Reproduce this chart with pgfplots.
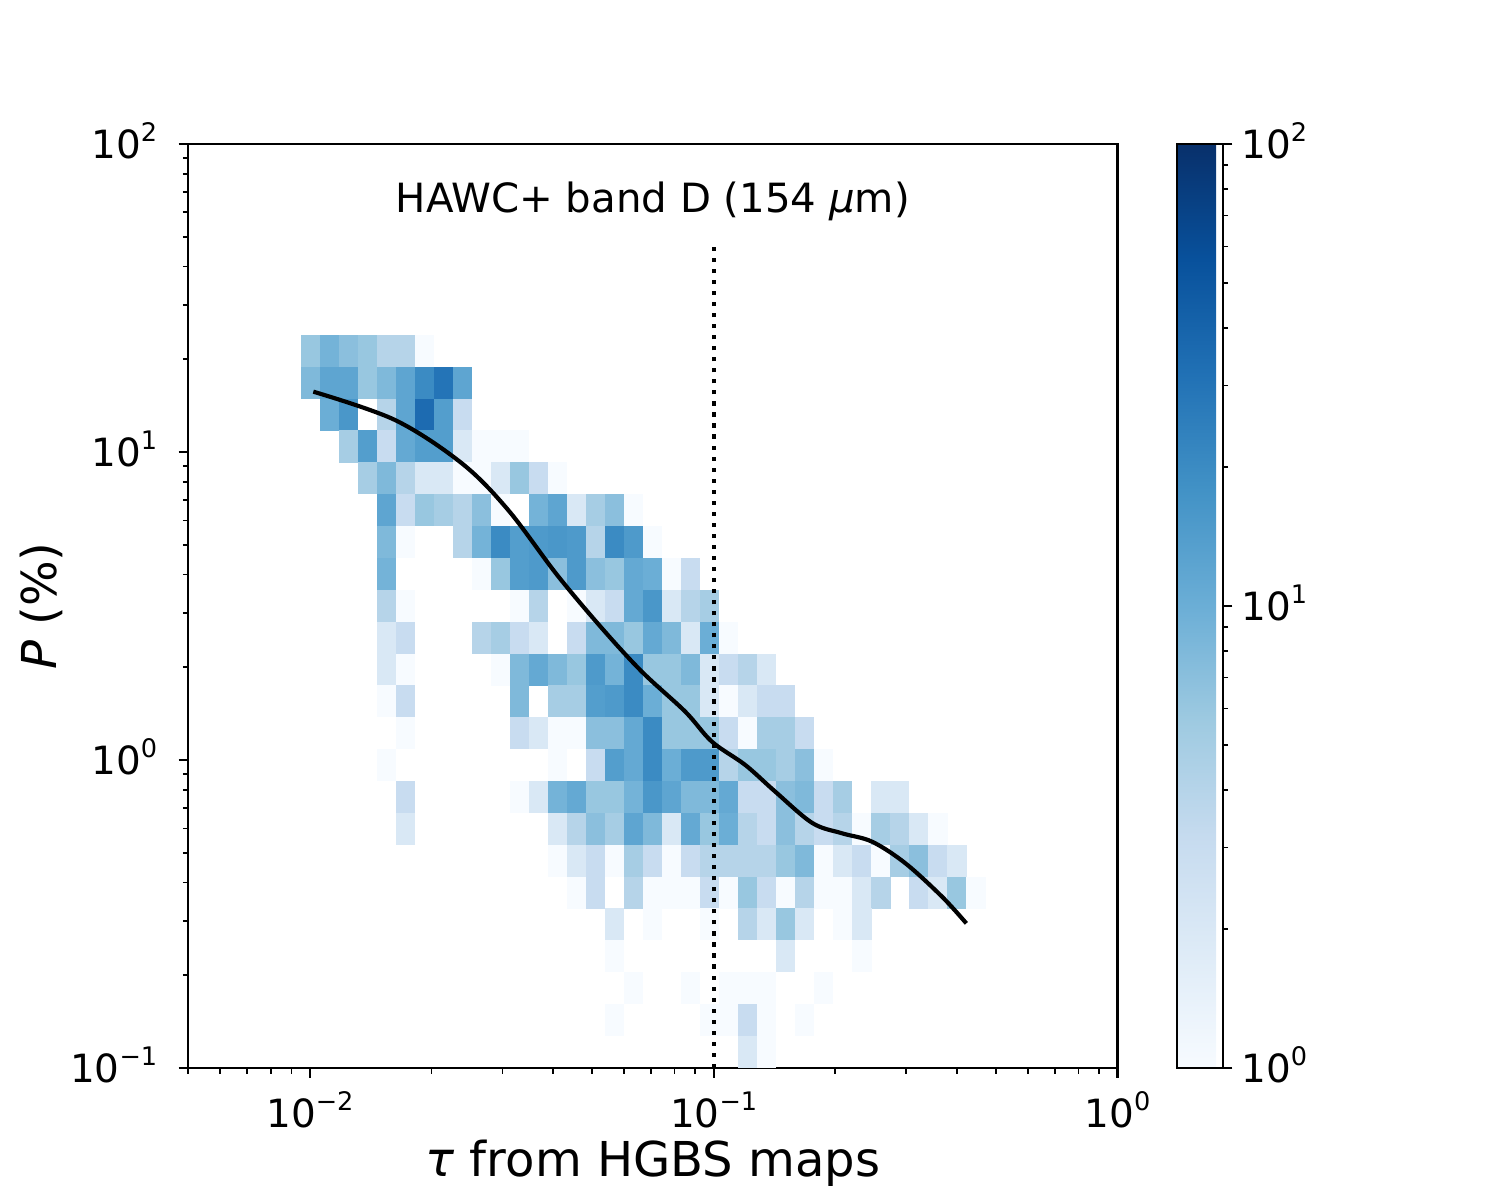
\documentclass[border=0pt]{standalone}
\usepackage{fontspec}
\setmainfont{DejaVu Sans}
\usepackage{pgfplots}
\usepackage{pgfplotstable}
\pgfplotsset{compat=1.18}
\newcommand{\tl}[1]{10\raisebox{6.2bp}{\fontsize{9.2bp}{10bp}\selectfont #1}}
\pgfdeclareplotmark{cell}{\pgfpathrectangle{\pgfpoint{-3.46bp}{-5.765bp}}{\pgfpoint{6.92bp}{11.53bp}}\pgfusepathqfill}
\pgfplotsset{colormap={mplblues}{rgb255=(247,251,255) rgb255=(222,235,247) rgb255=(198,219,239) rgb255=(158,202,225) rgb255=(107,174,214) rgb255=(66,146,198) rgb255=(33,113,181) rgb255=(8,81,156) rgb255=(8,48,107)}}
\pgfplotstableread{
x y c
0.010040 21.290 6
0.011190 21.290 9
0.012471 21.290 7
0.013899 21.290 6
0.015490 21.290 4
0.017264 21.290 4
0.019241 21.290 1
0.010040 16.778 8
0.011190 16.778 12
0.012471 16.778 12
0.013899 16.778 6
0.015490 16.778 8
0.017264 16.778 12
0.019241 16.778 20
0.021443 16.778 30
0.023899 16.778 12
0.011190 13.222 10
0.012471 13.222 16
0.015490 13.222 4
0.017264 13.222 12
0.019241 13.222 35
0.021443 13.222 14
0.023899 13.222 3
0.012471 10.419 5
0.013899 10.419 14
0.015490 10.419 3
0.017264 10.419 11
0.019241 10.419 14
0.021443 10.419 14
0.023899 10.419 2
0.026635 10.419 1
0.029685 10.419 1
0.033084 10.419 1
0.013899 8.2108 5
0.015490 8.2108 8
0.017264 8.2108 4
0.019241 8.2108 2
0.021443 8.2108 2
0.023899 8.2108 1
0.026635 8.2108 1
0.029685 8.2108 2
0.033084 8.2108 6
0.036873 8.2108 3
0.041093 8.2108 1
0.015490 6.4705 12
0.017264 6.4705 3
0.019241 6.4705 6
0.021443 6.4705 5
0.023899 6.4705 4
0.026635 6.4705 7
0.029685 6.4705 1
0.036873 6.4705 9
0.041093 6.4705 12
0.045799 6.4705 2
0.051042 6.4705 5
0.056887 6.4705 7
0.063400 6.4705 1
0.015490 5.0990 8
0.017264 5.0990 1
0.023899 5.0990 4
0.026635 5.0990 9
0.029685 5.0990 20
0.033084 5.0990 14
0.036873 5.0990 15
0.041093 5.0990 16
0.045799 5.0990 15
0.051042 5.0990 4
0.056887 5.0990 20
0.063400 5.0990 15
0.070660 5.0990 1
0.015490 4.0182 9
0.026635 4.0182 1
0.029685 4.0182 6
0.033084 4.0182 14
0.036873 4.0182 15
0.041093 4.0182 7
0.045799 4.0182 15
0.051042 4.0182 7
0.056887 4.0182 6
0.063400 4.0182 11
0.070660 4.0182 10
0.078749 4.0182 1
0.087767 4.0182 3
0.015490 3.1665 4
0.017264 3.1665 1
0.033084 3.1665 1
0.036873 3.1665 4
0.045799 3.1665 1
0.051042 3.1665 2
0.056887 3.1665 3
0.063400 3.1665 11
0.070660 3.1665 16
0.078749 3.1665 2
0.087767 3.1665 4
0.097818 3.1665 5
0.015490 2.4953 2
0.017264 2.4953 3
0.026635 2.4953 4
0.029685 2.4953 5
0.033084 2.4953 3
0.036873 2.4953 2
0.045799 2.4953 3
0.051042 2.4953 8
0.056887 2.4953 8
0.063400 2.4953 6
0.070660 2.4953 11
0.078749 2.4953 8
0.087767 2.4953 2
0.097818 2.4953 10
0.10902 2.4953 1
0.015490 1.9665 2
0.017264 1.9665 1
0.029685 1.9665 1
0.033084 1.9665 8
0.036873 1.9665 11
0.041093 1.9665 8
0.045799 1.9665 6
0.051042 1.9665 15
0.056887 1.9665 9
0.063400 1.9665 20
0.070660 1.9665 6
0.078749 1.9665 6
0.087767 1.9665 8
0.097818 1.9665 2
0.10902 1.9665 3
0.12150 1.9665 4
0.13542 1.9665 2
0.015490 1.5496 1
0.017264 1.5496 3
0.033084 1.5496 8
0.041093 1.5496 5
0.045799 1.5496 5
0.051042 1.5496 14
0.056887 1.5496 15
0.063400 1.5496 20
0.070660 1.5496 10
0.078749 1.5496 6
0.087767 1.5496 6
0.097818 1.5496 2
0.10902 1.5496 1
0.12150 1.5496 2
0.13542 1.5496 3
0.15092 1.5496 3
0.017264 1.2212 1
0.033084 1.2212 3
0.036873 1.2212 2
0.041093 1.2212 1
0.045799 1.2212 1
0.051042 1.2212 7
0.056887 1.2212 7
0.063400 1.2212 11
0.070660 1.2212 20
0.078749 1.2212 6
0.087767 1.2212 6
0.097818 1.2212 6
0.10902 1.2212 3
0.12150 1.2212 1
0.13542 1.2212 5
0.15092 1.2212 5
0.16820 1.2212 3
0.015490 0.96235 1
0.041093 0.96235 1
0.051042 0.96235 3
0.056887 0.96235 14
0.063400 0.96235 11
0.070660 0.96235 20
0.078749 0.96235 10
0.087767 0.96235 15
0.097818 0.96235 15
0.10902 0.96235 4
0.12150 0.96235 6
0.13542 0.96235 6
0.15092 0.96235 5
0.16820 0.96235 7
0.18746 0.96235 1
0.017264 0.75836 3
0.033084 0.75836 1
0.036873 0.75836 2
0.041093 0.75836 9
0.045799 0.75836 11
0.051042 0.75836 6
0.056887 0.75836 6
0.063400 0.75836 9
0.070660 0.75836 16
0.078749 0.75836 12
0.087767 0.75836 8
0.097818 0.75836 8
0.10902 0.75836 11
0.12150 0.75836 3
0.13542 0.75836 3
0.15092 0.75836 7
0.16820 0.75836 8
0.18746 0.75836 3
0.20892 0.75836 5
0.25950 0.75836 2
0.28921 0.75836 2
0.017264 0.59762 2
0.041093 0.59762 2
0.045799 0.59762 4
0.051042 0.59762 7
0.056887 0.59762 5
0.063400 0.59762 12
0.070660 0.59762 8
0.078749 0.59762 2
0.087767 0.59762 11
0.097818 0.59762 6
0.10902 0.59762 10
0.12150 0.59762 4
0.13542 0.59762 3
0.15092 0.59762 7
0.16820 0.59762 4
0.18746 0.59762 3
0.20892 0.59762 4
0.23285 0.59762 1
0.25950 0.59762 5
0.28921 0.59762 4
0.32233 0.59762 2
0.35924 0.59762 1
0.041093 0.47096 1
0.045799 0.47096 2
0.051042 0.47096 3
0.056887 0.47096 1
0.063400 0.47096 5
0.070660 0.47096 3
0.078749 0.47096 1
0.087767 0.47096 3
0.097818 0.47096 4
0.10902 0.47096 4
0.12150 0.47096 4
0.13542 0.47096 4
0.15092 0.47096 6
0.16820 0.47096 8
0.18746 0.47096 1
0.20892 0.47096 2
0.23285 0.47096 3
0.25950 0.47096 1
0.28921 0.47096 5
0.32233 0.47096 7
0.35924 0.47096 3
0.40037 0.47096 2
0.045799 0.37112 1
0.051042 0.37112 3
0.063400 0.37112 4
0.070660 0.37112 1
0.078749 0.37112 1
0.087767 0.37112 1
0.097818 0.37112 3
0.10902 0.37112 1
0.12150 0.37112 6
0.13542 0.37112 3
0.15092 0.37112 1
0.16820 0.37112 4
0.18746 0.37112 1
0.20892 0.37112 1
0.23285 0.37112 2
0.25950 0.37112 4
0.32233 0.37112 3
0.35924 0.37112 2
0.40037 0.37112 6
0.44622 0.37112 1
0.056887 0.29246 2
0.070660 0.29246 1
0.097818 0.29246 1
0.12150 0.29246 4
0.13542 0.29246 2
0.15092 0.29246 6
0.16820 0.29246 2
0.20892 0.29246 1
0.23285 0.29246 2
0.056887 0.23047 1
0.15092 0.23047 2
0.23285 0.23047 1
0.063400 0.18162 1
0.087767 0.18162 1
0.10902 0.18162 1
0.12150 0.18162 1
0.13542 0.18162 1
0.18746 0.18162 1
0.056887 0.14313 1
0.097818 0.14313 1
0.10902 0.14313 1
0.12150 0.14313 3
0.13542 0.14313 1
0.16820 0.14313 1
0.12150 0.11279 2
0.13542 0.11279 1
}\cells
\begin{document}
\begin{tikzpicture}
\path[use as bounding box] (-67.79bp,-47.52bp) rectangle (472.21bp,384.48bp);
\begin{axis}[
  at={(0,0)}, anchor=south west,
  scale only axis, width=334.5bp, height=332.64bp,
  clip mode=individual,
  xmode=log, ymode=log,
  xmin=0.005, xmax=1, ymin=0.1, ymax=100,
  colormap name=mplblues,
  point meta min=0, point meta max=2,
  xtick={0.01,0.1,1}, xticklabels={\tl{−2},\tl{−1},\tl{0}},
  ytick={0.1,1,10,100}, yticklabels={\tl{−1},\tl{0},\tl{1},\tl{2}},
  minor xtick={0.005,0.006,0.007,0.008,0.009,0.02,0.03,0.04,0.05,0.06,0.07,0.08,0.09,0.2,0.3,0.4,0.5,0.6,0.7,0.8,0.9},
  minor ytick={0.2,0.3,0.4,0.5,0.6,0.7,0.8,0.9,2,3,4,5,6,7,8,9,20,30,40,50,60,70,80,90},
  xtick pos=left, ytick pos=left,
  tick align=outside,
  major tick length=3.5bp, minor tick length=2bp,
  major tick style={line width=0.8bp, black},
  minor tick style={line width=0.6bp, black},
  axis line style={line width=0.8bp},
  xticklabel style={font=\fontsize{14bp}{16bp}\selectfont, anchor=base, inner sep=0pt, yshift=-18.1bp},
  yticklabel style={font=\fontsize{14bp}{16bp}\selectfont, anchor=base east, inner sep=0pt, xshift=-7.5bp, yshift=-5.2bp},
  xlabel={\textit{τ} from HGBS maps},
  ylabel={\textit{P} (\%)},
  xlabel style={font=\fontsize{17.3bp}{20bp}\selectfont, at={(axis description cs:0.5,-0.117)}, anchor=base},
  ylabel style={font=\fontsize{17.3bp}{20bp}\selectfont, at={(axis description cs:-0.1585,0.5)}, anchor=center},
  colorbar,
  colorbar style={
    at={(parent axis.north east)}, anchor=north west, xshift=12.8bp,
    scale only axis, width=16.56bp, height=332.64bp,
    ytick={0,1,2}, yticklabels={\tl{0},\tl{1},\tl{2}},
    minor ytick={0.30103,0.47712,0.60206,0.69897,0.77815,0.8451,0.90309,0.95424,1.30103,1.47712,1.60206,1.69897,1.77815,1.8451,1.90309,1.95424},
    xtick=\empty,
    ytick pos=right, yticklabel pos=right, tick align=outside,
    major tick length=3.5bp, minor tick length=2bp,
    major tick style={line width=0.8bp, black},
    minor tick style={line width=0.6bp, black},
    axis line style={line width=0.8bp},
    yticklabel style={font=\fontsize{14bp}{16bp}\selectfont, anchor=base west, inner sep=0pt, xshift=3bp, yshift=-5.2bp},
  },
]
\addplot[scatter, only marks, mark=cell, point meta={log10(\thisrow{c})}] table[x=x, y=y] {\cells};
\addplot[black, line width=1.5bp, smooth, tension=0.55] coordinates {
(0.010200,15.70) (0.016257,12.70) (0.023788,9.19) (0.030980,6.482)
(0.040973,3.987) (0.052887,2.677) (0.066424,1.935) (0.085066,1.435) (0.099038,1.1465)
(0.11977,0.9633) (0.14211,0.7891) (0.17549,0.6245) (0.20792,0.5782) (0.24677,0.5430)
(0.29837,0.4621) (0.36786,0.3598) (0.42245,0.2949)
};
\addplot[black, line width=1.5bp, dash pattern=on 1.5bp off 2.475bp] coordinates {(0.1,0.1) (0.1,47)};
\node[anchor=base, font=\fontsize{14.5bp}{16bp}\selectfont] at (rel axis cs:0.5,0.926) {HAWC+ band D (154 \textit{μ}m)};
\end{axis}
\end{tikzpicture}
\end{document}
